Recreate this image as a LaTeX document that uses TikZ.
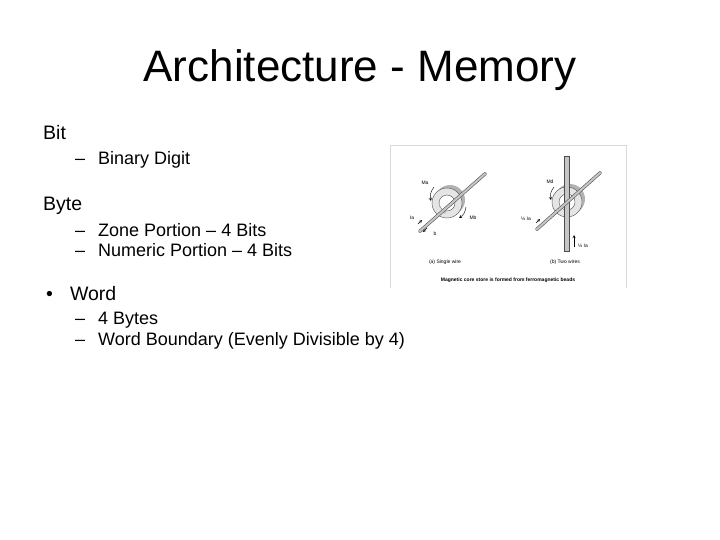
\documentclass[tikz,border=0pt]{standalone}
\usepackage{fontspec}
\setmainfont{Liberation Sans}
\begin{document}
\begin{tikzpicture}[x=1pt,y=-1pt,
  lvl1/.style={anchor=west,font=\fontsize{19.5}{22}\selectfont},
  lvl2/.style={anchor=west,font=\fontsize{18}{20}\selectfont},
  tiny/.style={font=\fontsize{5}{6}\selectfont,inner sep=0.5pt},
  wire/.style={draw=gray!60!black,fill=gray!45,line width=0.4pt},
  tip/.style={->,line width=0.4pt,>=stealth}]
\useasboundingbox (0,0) rectangle (720,540);
\node (title) at (360,70) {\fontsize{44}{48}\selectfont Architecture - Memory};
\node[lvl1,inner sep=0pt] (bit) at (43,133) {Bit};
\node[lvl2,inner sep=0pt] (b1) at (75,160) {--\hspace{13pt}Binary Digit};
\node[lvl1,inner sep=0pt] (byte) at (43,206) {Byte};
\node[lvl2,inner sep=0pt] (b2) at (75,230) {--\hspace{13pt}Zone Portion -- 4 Bits};
\node[lvl2,inner sep=0pt] (b3) at (75,250) {--\hspace{13pt}Numeric Portion -- 4 Bits};
\node[lvl1,inner sep=0pt] (word) at (46,294) {\textbullet\hspace{17pt}Word};
\node[lvl2,inner sep=0pt] (b4) at (75,320) {--\hspace{13pt}4 Bytes};
\node[lvl2,inner sep=0pt] (b5) at (75,341) {--\hspace{13pt}Word Boundary (Evenly Divisible by 4)};
% figure frame
\draw[gray!30,line width=0.8pt] (390,288) -- (390,145) -- (626,145) -- (626,288);
% left core
\fill[gray!60] (450,200) circle (15);
\filldraw[draw=gray!60!black,fill=gray!20] (447,203) circle (15);
\filldraw[draw=gray!60!black,fill=white] (447,203) circle (8);
\fill[gray!55] (447,203) ++(-8,0) arc[start angle=180,end angle=100,radius=8] -- ++(0,3) arc[start angle=100,end angle=180,radius=5] -- cycle;
\draw[wire,rounded corners=1pt] (418,231) -- (485,172) -- (487,174) -- (420,233) -- cycle;
\draw[tip] (434,187) to[bend right=25] (431,201);
\draw[tip] (466,207) to[bend left=25] (459,218);
\node[tiny] (ma) at (425,183) {Ma};
\node[tiny] (mb) at (473,218) {Mb};
\node[tiny] (ia) at (412,218) {Ia};
\node[tiny] (bb) at (435,234) {b};
\draw[tip] (418,224) -- (422,220);
\draw[tip] (427,228) -- (423,232);
% right core
\fill[gray!60] (570,199) circle (15);
\filldraw[draw=gray!60!black,fill=gray!20] (567,202) circle (15);
\filldraw[draw=gray!60!black,fill=white] (567,202) circle (8);
\draw[wire] (564,156) rectangle (569,251);
\draw[wire,rounded corners=1pt] (535,229) -- (600,171) -- (602,173) -- (537,231) -- cycle;
\draw[tip] (554,187) to[bend right=25] (551,200);
\node[tiny] (md) at (550,182) {Md};
\node[tiny] (hia) at (526,219) {\textonehalf\ Ia};
\draw[tip] (536,223) -- (540,219);
\draw[tip] (574,247) -- (574,235);
\node[tiny] (hib) at (583,246) {\textonehalf\ Ia};
\node[tiny] (ca) at (445,262) {(a) Single wire};
\node[tiny] (cb) at (565,262) {(b) Two wires};
\node[font=\fontsize{5}{6}\selectfont\bfseries] (cap) at (508,280) {Magnetic core store is formed from ferromagnetic beads};
\end{tikzpicture}
\end{document}
